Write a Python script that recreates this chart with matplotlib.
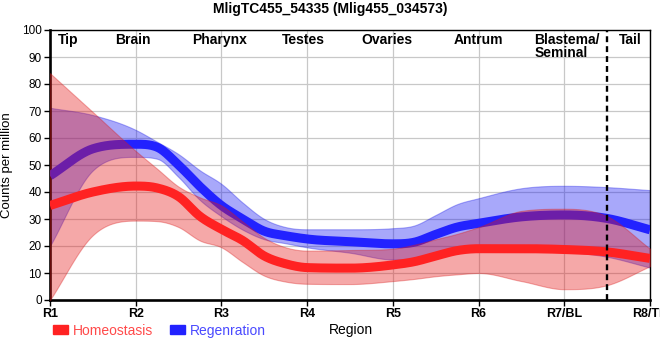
import numpy as np
import matplotlib
matplotlib.use("Agg")
import matplotlib.pyplot as plt
from matplotlib.patches import Rectangle

plt.rcParams['font.family'] = ['Liberation Sans', 'DejaVu Sans']

# ---------------- data ----------------
title = "MligTC455_54335 (Mlig455_034573)"
tick_labels = ["R1", "R2", "R3", "R4", "R5", "R6", "R7/BL", "R8/TP"]
region_names = ["Tip", "Brain", "Pharynx", "Testes", "Ovaries", "Antrum", "Blastema/\nSeminal", "Tail"]
region_label_x = [1.21, 1.97, 2.98, 3.96, 4.93, 6.0, 6.65, 7.77]
sample_x = [1, 1.5, 2, 2.25, 2.5, 2.75, 3, 3.25, 3.5, 3.75, 4, 4.5, 5, 5.25, 5.5, 5.75, 6, 6.5, 7, 7.5, 8]

homeo_mean  = [35, 40, 42.2, 41.5, 38.3, 31, 26.2, 22, 16.3, 13.4, 12, 11.8, 13, 14.2, 16.3, 18.3, 19, 19, 18.7, 17.8, 15.4]
homeo_upper = [84, 69.6, 55.2, 48.6, 42, 38, 35, 29, 23, 19.5, 18.3, 18.5, 19, 20.5, 22.5, 24.5, 27, 33, 33.8, 31, 19]
homeo_lower = [0, 24, 29.4, 29.2, 27, 22, 19.5, 14, 9, 6.8, 6, 5.9, 7, 7.8, 8.8, 9.5, 10, 7, 4, 5.5, 12.5]

regen_mean  = [46, 56, 57.7, 56.6, 50, 42, 35, 30, 25.5, 23.8, 22.6, 21.6, 20.8, 21.4, 24.3, 27, 28.4, 30.8, 31.5, 30.2, 26]
regen_upper = [71.2, 68.5, 63, 58.6, 54, 48, 43, 36, 30, 27, 26.2, 26.2, 26.6, 27.6, 31.5, 35.5, 37.7, 41.4, 42.3, 41.8, 40.7]
regen_lower = [20, 48, 53, 52.3, 45.5, 37, 31, 26, 22.5, 21, 19.5, 17.5, 15, 15, 16.5, 18, 19, 19, 18, 16, 12]

series_names = ["Homeostasis", "Regenration"]
divider_x = 7.5


# smooth monotone-limited cubic Hermite rendering of the sampled curve
def smooth_curve(x, y, xs):
    x = np.asarray(x, float)
    y = np.asarray(y, float)
    h = np.diff(x)
    d = np.diff(y) / h
    n = len(x)
    m = np.zeros(n)
    for k in range(1, n - 1):
        if d[k - 1] * d[k] <= 0:
            m[k] = 0
        else:
            mk = (h[k] * d[k - 1] + h[k - 1] * d[k]) / (h[k - 1] + h[k])
            cap = 3 * min(abs(d[k - 1]), abs(d[k]))
            m[k] = np.sign(mk) * min(abs(mk), cap)
    m[0] = d[0]
    m[-1] = d[-1]
    idx = np.clip(np.searchsorted(x, xs) - 1, 0, n - 2)
    t = (xs - x[idx]) / h[idx]
    h00 = 2 * t**3 - 3 * t**2 + 1
    h10 = t**3 - 2 * t**2 + t
    h01 = -2 * t**3 + 3 * t**2
    h11 = t**3 - t**2
    return h00 * y[idx] + h10 * h[idx] * m[idx] + h01 * y[idx + 1] + h11 * h[idx] * m[idx + 1]


xs = np.linspace(1, 8, 800)

fig = plt.figure(figsize=(6.6, 3.6), dpi=100)
ax = fig.add_axes([50 / 660, 60 / 360, 600 / 660, 270 / 360])

red_line = '#ff2222'
blue_line = '#2222ff'
red_fill = (0.9, 0.1, 0.1, 0.38)
red_edge = (0.85, 0.1, 0.1, 0.35)
blue_fill = (0.1, 0.1, 0.95, 0.38)
blue_edge = (0.1, 0.1, 0.9, 0.35)

ax.fill_between(xs, smooth_curve(sample_x, regen_lower, xs), smooth_curve(sample_x, regen_upper, xs),
                facecolor=blue_fill, edgecolor=blue_edge, linewidth=0.8, zorder=2)
ax.plot(xs, smooth_curve(sample_x, regen_mean, xs), color=blue_line, lw=6.5,
        solid_capstyle='butt', zorder=3)
ax.fill_between(xs, smooth_curve(sample_x, homeo_lower, xs), smooth_curve(sample_x, homeo_upper, xs),
                facecolor=red_fill, edgecolor=red_edge, linewidth=0.8, zorder=4)
ax.plot(xs, smooth_curve(sample_x, homeo_mean, xs), color=red_line, lw=6.5,
        solid_capstyle='butt', zorder=5)

ax.axvline(divider_x, color='black', lw=1.7, linestyle=(0, (2.5, 1.7)), zorder=6)

ax.set_xlim(1, 8)
ax.set_ylim(0, 100)
ax.set_xticks(range(1, 9))
ax.set_xticklabels(tick_labels, fontsize=9, fontweight='bold')
ax.set_yticks(range(0, 101, 10))
ax.tick_params(axis='y', labelsize=8.5, length=4, width=1, pad=2)
ax.tick_params(axis='x', length=4, width=1, pad=2)
ax.grid(True, color='#c8c8c8', lw=0.9)
ax.set_axisbelow(True)

for s in ['left', 'bottom']:
    ax.spines[s].set_linewidth(1.9)
for s in ['top', 'right']:
    ax.spines[s].set_linewidth(1.0)

for name, xp in zip(region_names, region_label_x):
    ha = 'left' if '\n' in name else 'center'
    ax.text(xp, 99, name, ha=ha, va='top', fontsize=10, fontweight='bold',
            linespacing=0.95, zorder=7)

ax.set_ylabel("Counts per million", fontsize=9.5, labelpad=6)
ax.set_xlabel("Region", fontsize=10)
ax.xaxis.set_label_coords(0.502, -0.085)

fig.suptitle(title, x=0.5, y=0.975, va='center', fontsize=10, fontweight='bold')

handles = [Rectangle((0, 0), 1, 1, color=red_line), Rectangle((0, 0), 1, 1, color=blue_line)]
ax.legend(handles, series_names, loc='center left', bbox_to_anchor=(0.005, -0.113),
          ncol=2, frameon=False, fontsize=10, handlelength=1.1, handleheight=0.6,
          handletextpad=0.35, columnspacing=1.2, borderpad=0, borderaxespad=0,
          labelcolor=['#ff4a4a', '#4a4aff'])

fig.savefig("out.png", dpi=100)
